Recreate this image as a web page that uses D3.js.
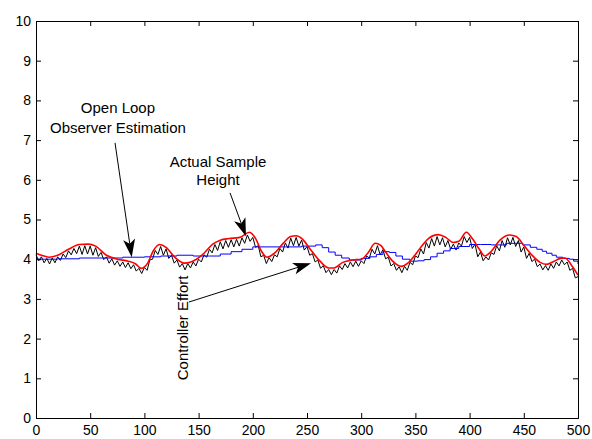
<!DOCTYPE html>
<html>
<head>
<meta charset="utf-8">
<script src="https://cdn.jsdelivr.net/npm/d3@7"></script>
<style>
  body { margin: 0; background: #fff; }
  svg text { font-family: Arial, "Liberation Sans", sans-serif; fill: #000; }
</style>
</head>
<body>
<div id="chart"></div>
<script>
// x ticks and y ticks
const xTicks = [0, 50, 100, 150, 200, 250, 300, 350, 400, 450, 500];
const yTicks = [0, 1, 2, 3, 4, 5, 6, 7, 8, 9, 10];

// red curve (smooth response) knots
const redX = [0, 5, 12, 20, 30, 40, 48, 55, 65, 75, 85, 92, 97, 103, 108, 114, 120, 128, 137, 148,
  155, 163, 170, 178, 188, 197, 203, 208, 213, 220, 228, 235, 240, 246, 253, 262, 270, 275, 283, 292,
  300, 306, 313, 318, 322, 329, 337, 343, 348, 355, 362, 371, 378, 385, 390, 397, 403, 409, 414, 420,
  428, 437, 443, 450, 457, 465, 471, 478, 484, 488, 494, 500];
const redY = [4.15, 4.10, 4.05, 4.10, 4.25, 4.37, 4.38, 4.33, 4.10, 4.00, 3.95, 3.88, 3.77, 3.90, 4.20, 4.37, 4.30, 4.05, 3.90, 4.00,
  4.15, 4.38, 4.48, 4.52, 4.55, 4.68, 4.50, 4.20, 4.05, 4.15, 4.40, 4.57, 4.59, 4.50, 4.25, 3.95, 3.78, 3.78, 3.92, 3.98,
  4.00, 4.15, 4.40, 4.35, 4.20, 3.95, 3.82, 3.90, 4.05, 4.30, 4.52, 4.62, 4.55, 4.42, 4.45, 4.68, 4.50, 4.25, 4.08, 4.20,
  4.48, 4.61, 4.57, 4.35, 4.12, 3.92, 3.87, 3.95, 4.02, 4.03, 3.85, 3.60];

// blue stepped observer estimate
const blueX = [0, 20, 40, 60, 80, 100, 115, 130, 145, 160, 170, 180, 190, 200, 215, 230, 245, 258, 264, 270,
  276, 282, 289, 300, 308, 314, 320, 326, 332, 338, 345, 352, 358, 364, 370, 376, 382, 390, 400, 410,
  420, 434, 449, 456, 462, 467, 471, 476, 480, 486, 492, 496, 500];
const blueY = [4.00, 4.01, 4.03, 4.03, 4.05, 4.06, 4.08, 4.10, 4.08, 4.08, 4.13, 4.19, 4.25, 4.31, 4.31, 4.31, 4.33, 4.36, 4.29, 4.18,
  4.10, 4.03, 3.98, 4.02, 4.06, 4.12, 4.19, 4.17, 4.08, 4.00, 3.95, 3.96, 3.99, 4.06, 4.15, 4.21, 4.27, 4.32, 4.37, 4.37,
  4.36, 4.40, 4.36, 4.30, 4.25, 4.20, 4.15, 4.10, 4.05, 4.02, 4.00, 3.95, 3.88];

// black sampled height, one value every 2.5 time units
const blackStep = 2.5;
const blackY = [
  4.11, 3.96, 4.06, 3.91, 4.02, 3.88, 4.03, 3.91, 4.06, 3.97,
  4.13, 4.04, 4.21, 4.11, 4.27, 4.14, 4.33, 4.12, 4.34, 4.13,
  4.33, 4.10, 4.29, 4.07, 4.17, 3.99, 4.06, 3.90, 4.01, 3.85,
  3.96, 3.82, 3.93, 3.79, 3.91, 3.76, 3.86, 3.70, 3.77, 3.64,
  3.79, 3.72, 3.98, 4.00, 4.22, 4.12, 4.32, 4.10, 4.26, 4.02,
  4.10, 3.90, 3.98, 3.80, 3.89, 3.73, 3.89, 3.78, 3.93, 3.83,
  4.00, 3.93, 4.11, 4.05, 4.25, 4.16, 4.37, 4.22, 4.44, 4.26,
  4.47, 4.30, 4.49, 4.31, 4.50, 4.33, 4.54, 4.40, 4.61, 4.45,
  4.55, 4.30, 4.34, 4.06, 4.10, 3.89, 4.04, 3.94, 4.11, 4.06,
  4.27, 4.18, 4.41, 4.28, 4.53, 4.34, 4.55, 4.33, 4.48, 4.23,
  4.32, 4.10, 4.14, 3.93, 3.98, 3.77, 3.84, 3.66, 3.74, 3.61,
  3.74, 3.65, 3.83, 3.74, 3.89, 3.78, 3.93, 3.81, 3.95, 3.82,
  3.96, 3.89, 4.08, 4.03, 4.25, 4.13, 4.34, 4.11, 4.24, 4.01,
  4.05, 3.83, 3.89, 3.72, 3.81, 3.66, 3.82, 3.72, 3.92, 3.86,
  4.08, 4.04, 4.26, 4.13, 4.42, 4.28, 4.52, 4.33, 4.57, 4.36,
  4.54, 4.31, 4.47, 4.25, 4.38, 4.23, 4.41, 4.33, 4.57, 4.42,
  4.55, 4.27, 4.38, 4.06, 4.18, 3.96, 4.06, 3.98, 4.16, 4.12,
  4.34, 4.21, 4.47, 4.30, 4.54, 4.36, 4.55, 4.32, 4.47, 4.18,
  4.31, 4.02, 4.15, 3.94, 4.00, 3.81, 3.88, 3.73, 3.84, 3.72,
  3.88, 3.77, 3.93, 3.83, 3.98, 3.86, 3.93, 3.72, 3.77, 3.53,
  3.56];

// annotations, in data units
const labelLines = [
  {text: "Open Loop", x: 75.6, y: 7.68},
  {text: "Observer Estimation", x: 75.6, y: 7.17},
  {text: "Actual Sample", x: 167.9, y: 6.33},
  {text: "Height", x: 167.9, y: 5.87}
];
const arrows = [
  {x1: 72.9, y1: 6.93, x2: 88.3, y2: 4.05},
  {x1: 179, y1: 5.67, x2: 193.7, y2: 4.58},
  {x1: 141, y1: 2.92, x2: 253.7, y2: 3.9}
];
const sideLabel = {text: "Controller Effort", x: 140.2, y: 2.27};

const svgWidth = 592;
const svgHeight = 439;
const margin = {top: 21, right: 14, bottom: 21, left: 36};
const graphWidth = svgWidth - margin.left - margin.right;
const graphHeight = svgHeight - margin.top - margin.bottom;

const svg = d3.select("#chart")
  .append("svg")
  .attr("width", svgWidth)
  .attr("height", svgHeight);

const graph = svg.append("g")
  .attr("transform", `translate(${margin.left}, ${margin.top})`);

const x = d3.scaleLinear().domain([0, 500]).range([0, graphWidth]);
const y = d3.scaleLinear().domain([0, 10]).range([graphHeight, 0]);

// curves
const black = blackY.map((v, i) => [i * blackStep, v]);
const red = redX.map((v, i) => [v, redY[i]]);
const blue = blueX.map((v, i) => [v, blueY[i]]);

const lineLinear = d3.line().x(d => x(d[0])).y(d => y(d[1]));

graph.append("path")
  .attr("d", lineLinear(black))
  .attr("fill", "none")
  .attr("stroke", "#000")
  .attr("stroke-width", 1);

graph.append("path")
  .attr("d", lineLinear.curve(d3.curveStepAfter)(blue))
  .attr("fill", "none")
  .attr("stroke", "#0000ff")
  .attr("stroke-width", 1);

graph.append("path")
  .attr("d", d3.line().x(d => x(d[0])).y(d => y(d[1])).curve(d3.curveMonotoneX)(red))
  .attr("fill", "none")
  .attr("stroke", "#ff0000")
  .attr("stroke-width", 1.6);

// axes, ticks inside on all four sides
const xBottom = d3.axisBottom(x).tickValues(xTicks).tickSize(-5).tickPadding(7);
const xTop = d3.axisTop(x).tickValues(xTicks).tickSize(-5).tickFormat("");
const yLeft = d3.axisLeft(y).tickValues(yTicks).tickSize(-5).tickPadding(5);
const yRight = d3.axisRight(y).tickValues(yTicks).tickSize(-5).tickFormat("");

function styleAxis(g) {
  g.selectAll("path, line").attr("stroke", "#000").attr("stroke-width", 1);
  g.selectAll("text").attr("font-size", 14).attr("font-family", "Arial, 'Liberation Sans', sans-serif");
}

graph.append("g").attr("transform", `translate(0, ${graphHeight})`).call(xBottom).call(styleAxis);
graph.append("g").call(xTop).call(styleAxis);
graph.append("g").call(yLeft).call(styleAxis);
graph.append("g").attr("transform", `translate(${graphWidth}, 0)`).call(yRight).call(styleAxis);

// annotations
graph.selectAll(".note")
  .data(labelLines)
  .enter()
  .append("text")
  .attr("class", "note")
  .attr("x", d => x(d.x))
  .attr("y", d => y(d.y))
  .attr("text-anchor", "middle")
  .attr("font-size", 15)
  .text(d => d.text);

graph.append("text")
  .attr("transform", `translate(${x(sideLabel.x)}, ${y(sideLabel.y)}) rotate(-90)`)
  .attr("text-anchor", "middle")
  .attr("font-size", 15)
  .text(sideLabel.text);

const headLen = 18, headHalf = 6;
arrows.forEach(a => {
  const px1 = x(a.x1), py1 = y(a.y1), px2 = x(a.x2), py2 = y(a.y2);
  const len = Math.hypot(px2 - px1, py2 - py1);
  const ux = (px2 - px1) / len, uy = (py2 - py1) / len;
  const bx = px2 - ux * headLen, by = py2 - uy * headLen;
  const nx = px2 - ux * headLen * 0.75, ny = py2 - uy * headLen * 0.75;
  graph.append("line")
    .attr("x1", px1).attr("y1", py1)
    .attr("x2", nx).attr("y2", ny)
    .attr("stroke", "#000")
    .attr("stroke-width", 1);
  graph.append("polygon")
    .attr("points", [
      [px2, py2],
      [bx - uy * headHalf, by + ux * headHalf],
      [nx, ny],
      [bx + uy * headHalf, by - ux * headHalf]
    ].map(p => p.join(",")).join(" "))
    .attr("fill", "#000");
});
</script>
</body>
</html>
